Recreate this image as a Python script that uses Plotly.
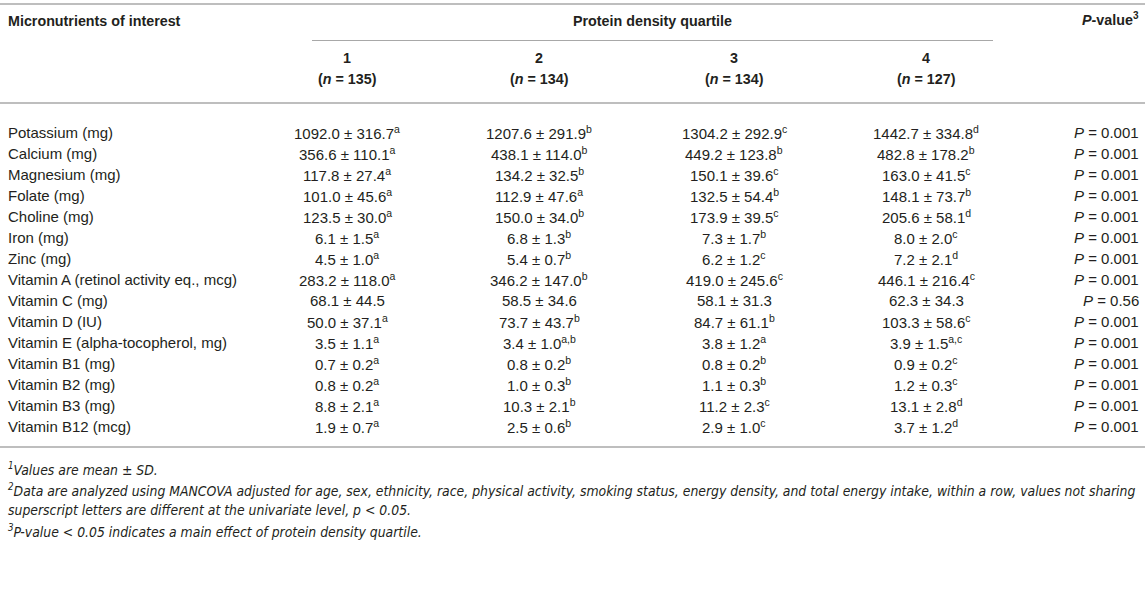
import plotly.graph_objects as go

W, H = 1145, 608

nutrients = ["Potassium (mg)", "Calcium (mg)", "Magnesium (mg)", "Folate (mg)", "Choline (mg)",
             "Iron (mg)", "Zinc (mg)", "Vitamin A (retinol activity eq., mcg)", "Vitamin C (mg)",
             "Vitamin D (IU)", "Vitamin E (alpha-tocopherol, mg)", "Vitamin B1 (mg)",
             "Vitamin B2 (mg)", "Vitamin B3 (mg)", "Vitamin B12 (mcg)"]

q1_mean = [1092.0, 356.6, 117.8, 101.0, 123.5, 6.1, 4.5, 283.2, 68.1, 50.0, 3.5, 0.7, 0.8, 8.8, 1.9]
q1_sd   = [316.7, 110.1, 27.4, 45.6, 30.0, 1.5, 1.0, 118.0, 44.5, 37.1, 1.1, 0.2, 0.2, 2.1, 0.7]
q1_sup  = ["a", "a", "a", "a", "a", "a", "a", "a", "", "a", "a", "a", "a", "a", "a"]

q2_mean = [1207.6, 438.1, 134.2, 112.9, 150.0, 6.8, 5.4, 346.2, 58.5, 73.7, 3.4, 0.8, 1.0, 10.3, 2.5]
q2_sd   = [291.9, 114.0, 32.5, 47.6, 34.0, 1.3, 0.7, 147.0, 34.6, 43.7, 1.0, 0.2, 0.3, 2.1, 0.6]
q2_sup  = ["b", "b", "b", "a", "b", "b", "b", "b", "", "b", "a,b", "b", "b", "b", "b"]

q3_mean = [1304.2, 449.2, 150.1, 132.5, 173.9, 7.3, 6.2, 419.0, 58.1, 84.7, 3.8, 0.8, 1.1, 11.2, 2.9]
q3_sd   = [292.9, 123.8, 39.6, 54.4, 39.5, 1.7, 1.2, 245.6, 31.3, 61.1, 1.2, 0.2, 0.3, 2.3, 1.0]
q3_sup  = ["c", "b", "c", "b", "c", "b", "c", "c", "", "b", "a", "b", "b", "c", "c"]

q4_mean = [1442.7, 482.8, 163.0, 148.1, 205.6, 8.0, 7.2, 446.1, 62.3, 103.3, 3.9, 0.9, 1.2, 13.1, 3.7]
q4_sd   = [334.8, 178.2, 41.5, 73.7, 58.1, 2.0, 2.1, 216.4, 34.3, 58.6, 1.5, 0.2, 0.3, 2.8, 1.2]
q4_sup  = ["d", "b", "c", "b", "d", "c", "d", "c", "", "c", "a,c", "c", "c", "d", "d"]

p_values = ["0.001"] * 8 + ["0.56"] + ["0.001"] * 6

quartile_labels = ["1", "2", "3", "4"]
quartile_n = [135, 134, 134, 127]

footnotes = [
    "<sup>1</sup>Values are mean ± SD.",
    "<sup>2</sup>Data are analyzed using MANCOVA adjusted for age, sex, ethnicity, race, physical activity, smoking status, energy density, and total energy intake, within a row, values not sharing",
    "superscript letters are different at the univariate level, p < 0.05.",
    "<sup>3</sup>P-value < 0.05 indicates a main effect of protein density quartile.",
]

# layout constants
TXT = "#231f20"
LINE = "#a8a8a8"
FONT = "Liberation Sans, Arial, sans-serif"
COND = "Liberation Sans Narrow, DejaVu Sans Condensed, sans-serif"
FS = 15
HS = 14.3
col_x = [347, 539, 734, 926]
row_y0, row_dy = 132, 21

fig = go.Figure()
ann = []

def add(text, x, y, xanchor="left", size=FS, bold=False, font=FONT, italic=False):
    if bold:
        text = "<b>" + text + "</b>"
    if italic:
        text = "<i>" + text + "</i>"
    ann.append(dict(text=text, x=x, y=y, xref="x", yref="y", xanchor=xanchor, yanchor="middle",
                    showarrow=False, font=dict(family=font, size=size, color=TXT)))

# header
add("Micronutrients of interest", 6, 21, size=HS, bold=True)
add("Protein density quartile", (312 + 993) / 2, 21, xanchor="center", size=HS, bold=True)
add("<i>P</i>-value<sup>3</sup>", 1141, 19, xanchor="right", size=HS, bold=True)
for i, (lab, n) in enumerate(zip(quartile_labels, quartile_n)):
    add(lab, col_x[i], 58, xanchor="center", size=HS, bold=True)
    add(f"(<i>n</i> = {n})", col_x[i], 79, xanchor="center", size=HS, bold=True)

# body
cols = [(q1_mean, q1_sd, q1_sup), (q2_mean, q2_sd, q2_sup), (q3_mean, q3_sd, q3_sup), (q4_mean, q4_sd, q4_sup)]
for r, name in enumerate(nutrients):
    y = row_y0 + r * row_dy
    add(name, 6, y)
    for c, (m, s, sp) in enumerate(cols):
        t = f"{m[r]:.1f} ± {s[r]:.1f}"
        if sp[r]:
            t += f"<sup>{sp[r]}</sup>"
        add(t, col_x[c], y, xanchor="center")
    add(f"<i>P</i> = {p_values[r]}", 1141, y, xanchor="right")

# footnotes
for i, fn in enumerate(footnotes):
    add(fn, 6, 469 + i * 20.7, size=13.85, font=COND, italic=True)

shapes = [
    dict(type="line", x0=0, x1=W, y0=4, y1=4, line=dict(color=LINE, width=1.6)),
    dict(type="line", x0=312, x1=993, y0=40.5, y1=40.5, line=dict(color=LINE, width=1.2)),
    dict(type="line", x0=0, x1=W, y0=103, y1=103, line=dict(color=LINE, width=1.6)),
    dict(type="line", x0=0, x1=W, y0=447, y1=447, line=dict(color=LINE, width=1.6)),
]
for s in shapes:
    s.update(xref="x", yref="y", layer="above")

fig.update_layout(
    width=W, height=H, margin=dict(l=0, r=0, t=0, b=0),
    paper_bgcolor="white", plot_bgcolor="white",
    xaxis=dict(range=[0, W], visible=False, fixedrange=True),
    yaxis=dict(range=[H, 0], visible=False, fixedrange=True),
    annotations=ann, shapes=shapes, showlegend=False,
)
fig.write_html("out.html", config={"displayModeBar": False},
               post_script="document.body.style.margin='0';document.body.style.overflow='hidden';")
